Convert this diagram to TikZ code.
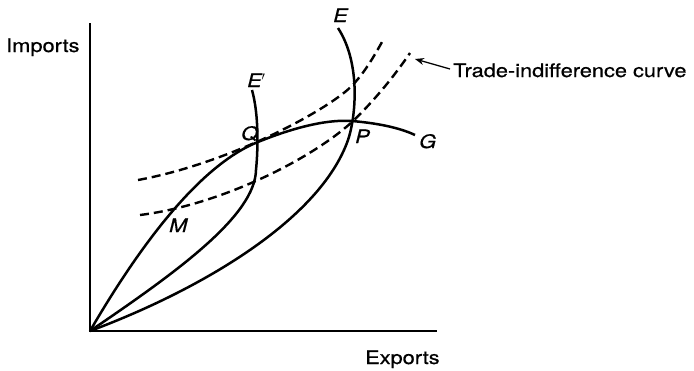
\documentclass[tikz,border=0pt]{standalone}
\usepackage{fontspec}
\setmainfont{TeX Gyre Heros}[FakeStretch=1.17,FakeBold=0.6]
\usetikzlibrary{arrows.meta}
\tikzset{
  lbl/.style={font=\fontsize{18.6}{22}\selectfont, inner sep=0pt, anchor=base west},
  ilbl/.style={lbl, font=\fontsize{18.6}{22}\selectfont\itshape},
  axis/.style={line width=1.5pt},
  curve/.style={line width=2.5pt},
  tic/.style={line width=2.4pt, dash pattern=on 9pt off 5pt},
  pointer/.style={line width=1.3pt, -{Stealth[length=9pt,width=7pt]}}
}
\begin{document}
\begin{tikzpicture}[x=1pt,y=-1pt]
\useasboundingbox (0,0) rectangle (694,370);
% axes
\coordinate (O) at (90,331);
\coordinate (ytop) at (90,23);
\coordinate (xend) at (437,331);
\draw[axis] (ytop) -- (O) -- (xend);
% labels of axes
\node[lbl] (imp) at (6,52) {Imports};
\node[lbl] (exp) at (365,364) {Exports};
% offer curve OG
\draw[curve] (O) .. controls (140,245) and (200,165) .. (258,142)
  .. controls (290,129) and (325,119) .. (352,121)
  .. controls (375,123) and (398,127) .. (415,135);
% E' curve
\draw[curve] (O) .. controls (180,270) and (255,215) .. (256,170)
  .. controls (258,150) and (259,115) .. (252,90);
% E curve
\draw[curve] (O) .. controls (200,290) and (320,220) .. (348,140)
  .. controls (355,120) and (362,65) .. (338,28);
% trade-indifference curves
\draw[tic] (138,180) .. controls (220,165) and (310,120) .. (345,92)
  .. controls (360,80) and (372,60) .. (382,42);
\draw[tic] (140,215) .. controls (220,205) and (310,160) .. (352,122)
  .. controls (375,100) and (395,75) .. (410,53);
% point labels
\node[ilbl] (lE) at (333,22) {E};
\node[ilbl] (lEp) at (247,87) {E$'$};
\node[ilbl] (lQ) at (241,140) {Q};
\node[ilbl] (lP) at (355,143) {P};
\node[ilbl] (lM) at (169,232) {M};
\node[ilbl] (lG) at (419,148) {G};
% pointer label
\node[lbl] (tictext) at (453,77) {Trade-indifference curve};
\coordinate (tip) at (415,59);
\draw[pointer] ([xshift=-3pt]tictext.west |- 0,69) -- (tip);
\end{tikzpicture}
\end{document}
